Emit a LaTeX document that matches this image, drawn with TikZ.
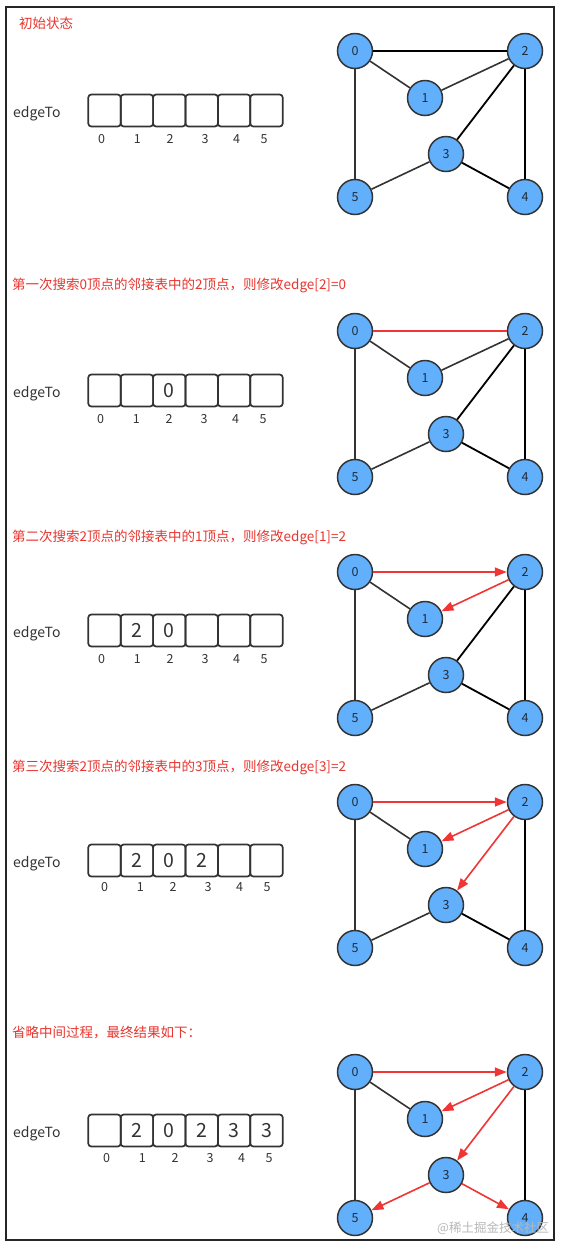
\documentclass[tikz,border=0pt]{standalone}
\usepackage{fontspec}
\setmainfont{Noto Sans CJK SC}
\usetikzlibrary{arrows.meta}
\definecolor{nodeblue}{HTML}{62AFFB}
\definecolor{titlered}{HTML}{E8352E}
\definecolor{arrowred}{HTML}{F03535}
\definecolor{dark}{HTML}{333333}
\definecolor{labelc}{HTML}{1F2D3D}
\tikzset{
  vtx/.style={circle, draw=dark, line width=1.5pt, fill=nodeblue, minimum size=35pt, inner sep=0pt, font=\fontsize{12.5}{12.5}\selectfont, text=labelc},
  cell/.style={draw=dark, line width=1.7pt, rounded corners=3pt, minimum width=32.4pt, minimum height=32pt, inner sep=0pt, font=\fontsize{19.5}{19.5}\selectfont, text=dark},
  idx/.style={font=\fontsize{12.5}{12.5}\selectfont, text=dark, inner sep=0pt, anchor=base},
  ttl/.style={anchor=west, text=titlered, font=\fontsize{13.5}{13.5}\selectfont, inner sep=0pt},
  lbl/.style={anchor=west, font=\fontsize{14}{14}\selectfont, text=dark, inner sep=0pt},
  edg/.style={line width=1.6pt, draw=dark},
  edgb/.style={line width=1.8pt, draw=black},
  redge/.style={line width=1.6pt, draw=arrowred},
  rarrow/.style={redge, -{Triangle[length=12pt,width=9pt]}},
}
\newcommand\vertices[2]{%
  \node[vtx] (#1v0) at (355,51+#2) {0};
  \node[vtx] (#1v2) at (525,51+#2) {2};
  \node[vtx] (#1v1) at (425,98+#2) {1};
  \node[vtx] (#1v3) at (446,154+#2) {3};
  \node[vtx] (#1v5) at (355,197+#2) {5};
  \node[vtx] (#1v4) at (525,197+#2) {4};
}
\newcommand\cells[8]{%
  \node[lbl] (#1lab) at (13,114+#2) {edgeTo};
  \node[cell] (#1c0) at (104.5,110.5+#2) {#3};
  \node[cell] (#1c1) at (136.9,110.5+#2) {#4};
  \node[cell] (#1c2) at (169.3,110.5+#2) {#5};
  \node[cell] (#1c3) at (201.7,110.5+#2) {#6};
  \node[cell] (#1c4) at (234.1,110.5+#2) {#7};
  \node[cell] (#1c5) at (266.5,110.5+#2) {#8};
}
\newcommand\indices[3]{%
  \node[idx] (#1i0) at (101.7+#3,143+#2) {0};
  \node[idx] (#1i1) at (137.3+#3,143+#2) {1};
  \node[idx] (#1i2) at (170+#3,143+#2) {2};
  \node[idx] (#1i3) at (205+#3,143+#2) {3};
  \node[idx] (#1i4) at (236.7+#3,143+#2) {4};
  \node[idx] (#1i5) at (264+#3,143+#2) {5};
}
\begin{document}
\begin{tikzpicture}[x=1pt,y=-1pt]
\useasboundingbox (0,0) rectangle (563,1251);
\fill[white] (0,0) rectangle (563,1251);
\draw[line width=2pt, draw=black!85] (6,7) rectangle (554,1240);

% panel 1
\node[ttl] (t1) at (19,23) {初始状态};
\cells{a}{0}{}{}{}{}{}{}
\indices{a}{0}{0}
\vertices{a}{0}
\draw[edgb] (av0) -- (av2);
\draw[edg] (av0) -- (av1);
\draw[edg] (av1) -- (av2);
\draw[edgb] (av2) -- (av3);
\draw[edgb] (av2) -- (av4);
\draw[edgb] (av3) -- (av4);
\draw[edg] (av3) -- (av5);
\draw[edg] (av0) -- (av5);

% panel 2
\node[ttl] (t2) at (12,285) {第一次搜索0顶点的邻接表中的2顶点，则修改edge[2]=0};
\cells{b}{280}{}{}{0}{}{}{}
\indices{b}{280}{-1}
\vertices{b}{280}
\draw[redge] (bv0) -- (bv2);
\draw[edg] (bv0) -- (bv1);
\draw[edg] (bv1) -- (bv2);
\draw[edgb] (bv2) -- (bv3);
\draw[edgb] (bv2) -- (bv4);
\draw[edgb] (bv3) -- (bv4);
\draw[edg] (bv3) -- (bv5);
\draw[edg] (bv0) -- (bv5);

% panel 3
\node[ttl] (t3) at (12,537) {第二次搜索2顶点的邻接表中的1顶点，则修改edge[1]=2};
\cells{c}{520}{}{2}{0}{}{}{}
\indices{c}{520}{0}
\vertices{c}{521}
\draw[rarrow] (cv0) -- (cv2);
\draw[rarrow] (cv2) -- (cv1);
\draw[edg] (cv0) -- (cv1);
\draw[edgb] (cv2) -- (cv3);
\draw[edgb] (cv2) -- (cv4);
\draw[edgb] (cv3) -- (cv4);
\draw[edg] (cv3) -- (cv5);
\draw[edg] (cv0) -- (cv5);

% panel 4
\node[ttl] (t4) at (12,767) {第三次搜索2顶点的邻接表中的3顶点，则修改edge[3]=2};
\cells{d}{750}{}{2}{0}{2}{}{}
\indices{d}{748}{3}
\vertices{d}{751}
\draw[rarrow] (dv0) -- (dv2);
\draw[rarrow] (dv2) -- (dv1);
\draw[rarrow] (dv2) -- (dv3);
\draw[edg] (dv0) -- (dv1);
\draw[edgb] (dv2) -- (dv4);
\draw[edgb] (dv3) -- (dv4);
\draw[edg] (dv3) -- (dv5);
\draw[edg] (dv0) -- (dv5);

% panel 5
\node[ttl] (t5) at (12,1033) {省略中间过程，最终结果如下：};
\cells{e}{1020}{}{2}{0}{2}{3}{3}
\indices{e}{1019}{5}
\vertices{e}{1021}
\draw[rarrow] (ev0) -- (ev2);
\draw[rarrow] (ev2) -- (ev1);
\draw[rarrow] (ev2) -- (ev3);
\draw[rarrow] (ev3) -- (ev5);
\draw[rarrow] (ev3) -- (ev4);
\draw[edg] (ev0) -- (ev1);
\draw[edgb] (ev2) -- (ev4);
\draw[edg] (ev0) -- (ev5);

\node[anchor=west, text=black!28, font=\fontsize{12.5}{12.5}\selectfont, inner sep=0pt] (wm) at (437,1228) {@稀土掘金技术社区};
\end{tikzpicture}
\end{document}
